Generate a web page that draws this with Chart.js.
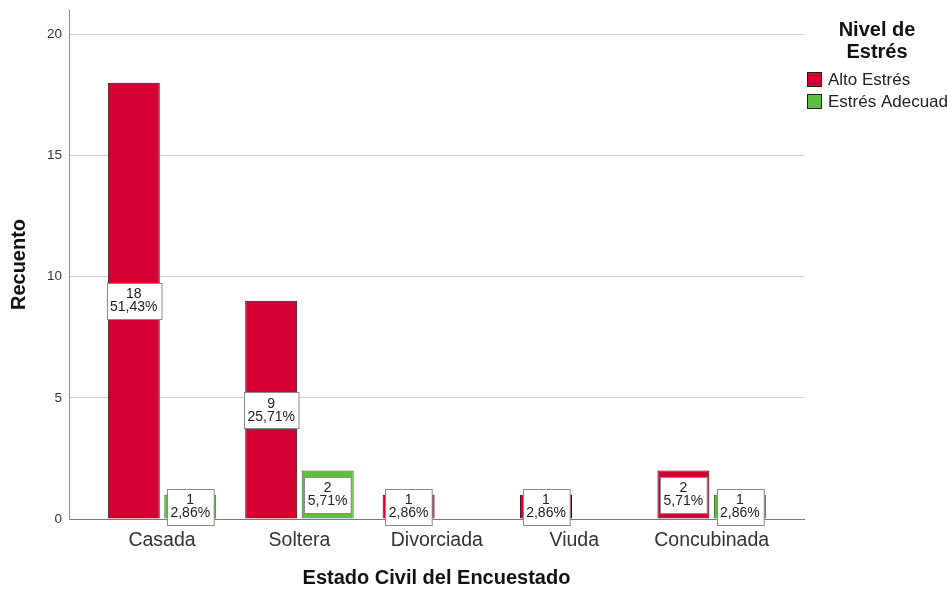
<!DOCTYPE html>
<html lang="es">
<head>
<meta charset="utf-8">
<title>Nivel de Estrés por Estado Civil</title>
<script src="https://cdn.jsdelivr.net/npm/chart.js@4/dist/chart.umd.min.js"></script>
<style>
    html, body { margin: 0; padding: 0; background: #fff; }
    #wrap { width: 947px; height: 589px; position: relative; }
</style>
</head>
<body>
<div id="wrap"><canvas id="estresChart"></canvas></div>
<script>
// Data
const categorias = ['Casada', 'Soltera', 'Divorciada', 'Viuda', 'Concubinada'];
const altoEstres = [18, 9, 1, 1, 2];
const estresAdecuado = [1, 2, null, null, 1];
const yTicks = [0, 5, 10, 15, 20];
const seriesNames = ['Alto Estrés', 'Estrés Adecuado'];

const FONT = '"Liberation Sans", Arial, sans-serif';
const RED = '#d50032';
const GREEN = '#5cbd3e';

const total = [...altoEstres, ...estresAdecuado].reduce((s, v) => s + (v || 0), 0);

// turn a series into {x, y} points on the numeric category axis
function toPoints(values) {
    return values
        .map((v, i) => ({ x: i, y: v }))
        .filter(p => p.y !== null);
}

// White boxes with count and percentage inside each bar
const boxLabels = {
    id: 'boxLabels',
    afterDatasetsDraw(chart) {
        const ctx = chart.ctx;
        ctx.save();
        ctx.font = '14px ' + FONT;
        ctx.textAlign = 'center';
        ctx.textBaseline = 'middle';
        chart.data.datasets.forEach((ds, di) => {
            const meta = chart.getDatasetMeta(di);
            meta.data.forEach((bar, j) => {
                const value = ds.data[j].y;
                const pct = (value / total * 100).toFixed(2).replace('.', ',') + '%';
                const w = Math.max(ctx.measureText(String(value)).width, ctx.measureText(pct).width) + 7;
                const h = 36;
                const cy = (bar.y + bar.base) / 2;
                const x0 = Math.round(bar.x - w / 2) + 0.5;
                const y0 = Math.round(cy - h / 2) + 0.5;
                ctx.fillStyle = '#fff';
                ctx.fillRect(x0, y0, w, h);
                ctx.strokeStyle = '#8a8a8a';
                ctx.lineWidth = 1;
                ctx.strokeRect(x0, y0, w, h);
                ctx.fillStyle = '#222';
                ctx.fillText(String(value), bar.x, cy - 6);
                ctx.fillText(pct, bar.x, cy + 7);
            });
        });
        ctx.restore();
    }
};

// Legend on the right with a two-line title
const sideLegend = {
    id: 'sideLegend',
    afterDraw(chart) {
        const ctx = chart.ctx;
        const cx = 877;
        ctx.save();
        ctx.fillStyle = '#111';
        ctx.textAlign = 'center';
        ctx.textBaseline = 'middle';
        ctx.font = 'bold 20px ' + FONT;
        ctx.fillText('Nivel de', cx, 30);
        ctx.fillText('Estrés', cx, 52);
        ctx.font = '17px ' + FONT;
        ctx.textAlign = 'left';
        chart.data.datasets.forEach((ds, i) => {
            const y = 72 + i * 22;
            ctx.fillStyle = ds.backgroundColor;
            ctx.fillRect(807.5, y + 0.5, 14, 14);
            ctx.strokeStyle = '#222';
            ctx.lineWidth = 1;
            ctx.strokeRect(807.5, y + 0.5, 14, 14);
            ctx.fillStyle = '#222';
            ctx.fillText(ds.label, 828, y + 8);
        });
        ctx.restore();
    }
};

const ctx = document.getElementById('estresChart').getContext('2d');
new Chart(ctx, {
    type: 'bar',
    data: {
        datasets: [
            {
                label: seriesNames[0],
                data: toPoints(altoEstres),
                backgroundColor: RED,
                borderColor: '#3b0812',
                borderWidth: 1
            },
            {
                label: seriesNames[1],
                data: toPoints(estresAdecuado),
                backgroundColor: GREEN,
                borderColor: '#2c6a1a',
                borderWidth: 1
            }
        ]
    },
    options: {
        responsive: true,
        maintainAspectRatio: false,
        animation: false,
        categoryPercentage: 0.822,
        barPercentage: 0.92,
        layout: { padding: { top: 10, right: 143, left: 0, bottom: 0 } },
        plugins: {
            legend: { display: false },
            tooltip: { enabled: false }
        },
        scales: {
            x: {
                type: 'linear',
                min: -0.677,
                max: 4.672,
                offset: false,
                grid: { display: false, offset: false, drawTicks: false },
                border: { display: true, color: '#7a7a7a', width: 1 },
                afterBuildTicks: s => { s.ticks = categorias.map((_, i) => ({ value: i })); },
                afterFit: s => { s.height = 70; s.paddingLeft = 0; s.paddingRight = 0; },
                ticks: {
                    autoSkip: false,
                    maxRotation: 0,
                    padding: 10,
                    color: '#333',
                    font: { family: FONT, size: 19.5 },
                    callback: v => categorias[v]
                },
                title: {
                    display: true,
                    text: 'Estado Civil del Encuestado',
                    color: '#111',
                    padding: { top: 0, bottom: 0 },
                    font: { family: FONT, size: 20, weight: 'bold', lineHeight: 1.1 }
                }
            },
            y: {
                min: 0,
                max: 21,
                grid: { color: '#d2d2d2', drawTicks: false },
                border: { display: true, color: '#8c8c8c', width: 1 },
                afterBuildTicks: s => { s.ticks = yTicks.map(v => ({ value: v })); },
                afterFit: s => { s.width = 69; s.paddingTop = 0; s.paddingBottom = 0; },
                ticks: {
                    padding: 7,
                    color: '#333',
                    font: { family: FONT, size: 13.5 }
                },
                title: {
                    display: true,
                    text: 'Recuento',
                    color: '#111',
                    padding: { top: 8, bottom: 0 },
                    font: { family: FONT, size: 20, weight: 'bold', lineHeight: 1.1 }
                }
            }
        }
    },
    plugins: [boxLabels, sideLegend]
});
</script>
</body>
</html>
